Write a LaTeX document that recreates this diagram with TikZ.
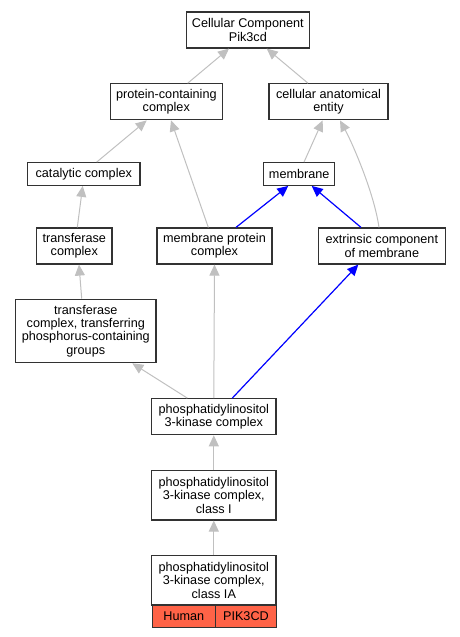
\documentclass[tikz,border=0pt]{standalone}
\usepackage{fontspec}
\setmainfont{Liberation Sans}
\usetikzlibrary{arrows.meta}
\definecolor{edgegray}{RGB}{192,192,192}
\definecolor{boxline}{RGB}{50,50,50}
\definecolor{tomatofill}{RGB}{255,99,71}
\tikzset{
  termbox/.style={draw=boxline, line width=1.2bp, fill=white, inner sep=0pt, align=center,
    font=\fontsize{12.7}{13.3}\selectfont},
  isa/.style={draw=edgegray, line width=1bp, -{Triangle[length=11bp,width=10bp]}, fill=none},
  partof/.style={draw=blue, line width=1.2bp, -{Triangle[length=11bp,width=10bp]}, fill=none},
  genebox/.style={draw=boxline, line width=1.2bp, fill=tomatofill, inner sep=0pt, align=center,
    font=\fontsize{12.7}{13.3}\selectfont},
}
\begin{document}
\begin{tikzpicture}[x=1bp,y=-1bp]
\useasboundingbox (0,0) rectangle (460,637);
\node[termbox, minimum width=123bp, minimum height=36bp] (cc) at (247.8,30) {Cellular Component\\Pik3cd};
\node[termbox, minimum width=112bp, minimum height=36bp] (pcc) at (166.3,101.8) {protein-containing\\complex};
\node[termbox, minimum width=119bp, minimum height=36bp] (cae) at (328.5,101.8) {cellular anatomical\\entity};
\node[termbox, minimum width=112.3bp, minimum height=22.6bp] (cat) at (83.8,174) {catalytic complex};
\node[termbox, minimum width=71bp, minimum height=22.6bp] (mem) at (299.2,174) {membrane};
\node[termbox, minimum width=75.3bp, minimum height=36bp] (tc) at (74.3,246) {transferase\\complex};
\node[termbox, minimum width=115bp, minimum height=36bp] (mpc) at (214.5,246) {membrane protein\\complex};
\node[termbox, minimum width=127bp, minimum height=36bp] (ecm) at (381.8,246) {extrinsic component\\of membrane};
\node[termbox, minimum width=140.3bp, minimum height=63.4bp] (tct) at (85.8,331) {transferase\\complex, transferring\\phosphorus-containing\\groups};
\node[termbox, minimum width=124.3bp, minimum height=36bp] (pik) at (213.8,416.7) {phosphatidylinositol\\3-kinase complex};
\node[termbox, minimum width=124.3bp, minimum height=49.3bp] (pik1) at (213.8,495.3) {phosphatidylinositol\\3-kinase complex,\\class I};
\node[termbox, minimum width=124.3bp, minimum height=49.3bp] (pik1a) at (213.8,580.3) {phosphatidylinositol\\3-kinase complex,\\class IA};
\node[genebox, minimum width=63bp, minimum height=21.7bp, anchor=north west] (human) at (151.7,605) {Human};
\node[genebox, minimum width=61.3bp, minimum height=21.7bp, anchor=north west] (gene) at (214.7,605) {PIK3CD};

\draw[isa] ([xshift=21.4bp]pcc.north) -- ([xshift=-18.8bp]cc.south);
\draw[isa] ([xshift=-20.5bp]cae.north) -- ([xshift=18.9bp]cc.south);
\draw[isa] ([xshift=12.9bp]cat.north) -- ([xshift=-19.6bp]pcc.south);
\draw[isa] ([xshift=-6.2bp]mpc.north) -- ([xshift=4.7bp]pcc.south);
\draw[isa] ([xshift=4.8bp]mem.north) -- ([xshift=-5.8bp]cae.south);
\draw[isa] ([xshift=-2.8bp]ecm.north) .. controls +(-5,-35) and +(12,22) .. ([xshift=11.5bp]cae.south);
\draw[partof] ([xshift=21.5bp]mpc.north) -- ([xshift=-10.9bp]mem.south);
\draw[partof] ([xshift=-20.8bp]ecm.north) -- ([xshift=12.5bp]mem.south);
\draw[isa] ([xshift=3bp]tc.north) -- ([xshift=-1.1bp]cat.south);
\draw[isa] ([xshift=-4.1bp]tct.north) -- ([xshift=4.7bp]tc.south);
\draw[isa] ([xshift=-26.5bp]pik.north) -- ([xshift=46.5bp]tct.south);
\draw[isa] (pik.north) -- (mpc.south);
\draw[partof] ([xshift=18.5bp]pik.north) -- ([xshift=-23.5bp]ecm.south);
\draw[isa] (pik1.north) -- (pik.south);
\draw[isa] (pik1a.north) -- (pik1.south);
\end{tikzpicture}
\end{document}
